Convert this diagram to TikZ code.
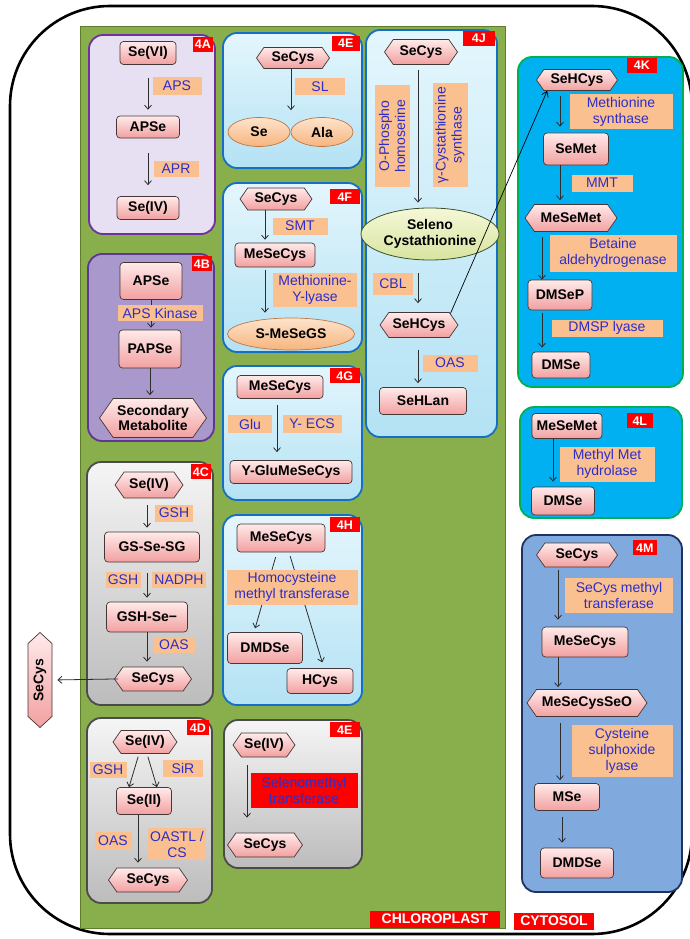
\documentclass[tikz,border=0pt]{standalone}
\usepackage{fontspec}
\setmainfont{Liberation Sans}
\usetikzlibrary{shapes.symbols,shapes.geometric,arrows.meta}
\definecolor{chl}{RGB}{137,174,76}
\definecolor{chlB}{RGB}{95,125,45}
\definecolor{pkT}{RGB}{255,234,234}
\definecolor{pkB}{RGB}{242,160,160}
\definecolor{ndB}{RGB}{70,55,55}
\definecolor{orT}{RGB}{253,228,205}
\definecolor{orBt}{RGB}{247,180,125}
\definecolor{orB}{RGB}{190,120,70}
\definecolor{ylT}{RGB}{245,248,215}
\definecolor{ylB}{RGB}{215,228,160}
\definecolor{yeB}{RGB}{60,80,40}
\definecolor{lbF}{RGB}{250,192,144}
\definecolor{lbT}{RGB}{45,45,200}
\definecolor{tagR}{RGB}{255,0,0}
\definecolor{arC}{RGB}{45,45,45}
\definecolor{aF}{RGB}{230,224,242}
\definecolor{aB}{RGB}{112,48,160}
\definecolor{bF}{RGB}{168,152,204}
\definecolor{bB}{RGB}{95,55,145}
\definecolor{gT}{RGB}{245,245,245}
\definecolor{gBt}{RGB}{188,188,188}
\definecolor{gB}{RGB}{75,75,75}
\definecolor{cT}{RGB}{228,246,253}
\definecolor{cBt}{RGB}{180,226,244}
\definecolor{cB}{RGB}{20,110,200}
\definecolor{kF}{RGB}{0,176,240}
\definecolor{kB}{RGB}{0,176,80}
\definecolor{mF}{RGB}{128,170,222}
\definecolor{mB}{RGB}{30,50,100}
\begin{document}
\begin{tikzpicture}[x=1pt,y=-1pt,
 sz/.style 2 args={minimum width=#1pt,minimum height=#2pt},
 rn/.style={draw=ndB,line width=0.7pt,rounded corners=3.5pt,top color=pkT,bottom color=pkB,font=\bfseries\fontsize{14}{15}\selectfont,inner sep=1pt,align=center},
 hx/.style={rn,sharp corners,signal,signal to=west and east,signal pointer angle=110},
 oe/.style={ellipse,draw=orB,line width=0.7pt,top color=orT,bottom color=orBt,font=\bfseries\fontsize{14}{15}\selectfont,inner sep=0pt,align=center},
 lb/.style={fill=lbF,text=lbT,font=\fontsize{14}{16}\selectfont,inner sep=1pt,align=center},
 tg/.style={fill=tagR,text=white,font=\bfseries\fontsize{12.5}{13}\selectfont,inner sep=1pt,minimum height=15pt,minimum width=20pt,anchor=north east},
 arr/.style={draw=arC,line width=0.8pt,-{Straight Barb[length=4pt,width=7pt]}},
 pnl/.style={line width=1.8pt,rounded corners=14pt},
 pA/.style={pnl,draw=aB,fill=aF},
 pB/.style={pnl,draw=bB,fill=bF},
 pG/.style={pnl,draw=gB,top color=gT,bottom color=gBt},
 pC/.style={pnl,draw=cB,top color=cT,bottom color=cBt},
 pK/.style={pnl,draw=kB,fill=kF},
 pM/.style={pnl,draw=mB,fill=mF}]
\useasboundingbox (0,0) rectangle (689,939);
\draw[line width=2.6pt, rounded corners=100pt] (10,6) rectangle (692,934);
\draw[fill=chl, draw=chlB, line width=0.8pt] (80,26) rectangle (505,928);

% 4A
\draw[pA] (89,35) rectangle (215,234);
\node[tg] (tA) at (213,37) {4A};
\node[rn, sz={56}{23}] (nA1) at (148,53) {Se(VI)};
\node[rn, sz={63}{22}] (nA2) at (148,127) {APSe};
\node[rn, sz={62}{23}] (nA3) at (148,208) {Se(IV)};
\draw[arr, shorten <=13pt, shorten >=6pt] (nA1.south) -- (nA2.north);
\draw[arr, shorten <=15pt, shorten >=11pt] (nA2.south) -- (nA3.north);
\node[lb, sz={49}{18}] (lA1) at (177,86) {APS};
\node[lb, sz={45}{16}] (lA2) at (176,169) {APR};

% 4B
\draw[pB] (88,254) rectangle (214,441);
\node[tg] (tB) at (212,256) {4B};
\node[rn, sz={62}{37}] (nB1) at (151,281) {APSe};
\node[rn, sz={62}{38}] (nB2) at (150,349) {PAPSe};
\node[hx, sz={107}{39}] (nB3) at (153,418) {Secondary\\Metabolite};
\draw[arr, shorten >=2pt] (nB1.south) -- (nB1.south |- nB2.north);
\draw[arr, shorten >=3pt] (nB2.south) -- (nB2.south |- nB3.north);
\node[lb, sz={85}{16}] (lB1) at (160,313) {APS Kinase};

% 4C
\draw[pG] (87,462) rectangle (213,705);
\node[tg] (tC) at (211,464) {4C};
\node[hx, sz={68}{26}] (nC1) at (149,485) {Se(IV)};
\node[rn, sz={95}{30}] (nC2) at (152,547) {GS-Se-SG};
\node[rn, sz={81}{30}] (nC3) at (147,617) {GSH-Se−};
\node[hx, sz={77}{24}] (nC4) at (153,679) {SeCys};
\draw[arr, shorten <=7pt, shorten >=4pt] ([xshift=-2pt]nC1.south) -- ([xshift=-2pt]nC1.south |- nC2.north);
\draw[arr, shorten <=11pt, shorten >=4pt] ([xshift=-5pt]nC2.south) -- ([xshift=-5pt]nC2.south |- nC3.north);
\draw[arr, shorten >=5pt] (nC3.south) -- (nC3.south |- nC4.north);
\node[lb, sz={38}{17}] (lC1) at (174,513) {GSH};
\node[lb, sz={35}{16}] (lC2) at (123,580) {GSH};
\node[lb, sz={54}{16}] (lC3) at (179,580) {NADPH};
\node[lb, sz={42}{16}] (lC4) at (174,645) {OAS};
\node[hx, sz={95}{24}, rotate=90, signal pointer angle=95] (sOut) at (40,680) {SeCys};
\draw[arr, shorten >=5pt, shorten <=-4pt] (nC4.west) -- (sOut.south);

% 4D
\draw[pG] (87,718) rectangle (212,903);
\node[tg, minimum width=22pt] (tD) at (209,720) {4D};
\node[hx, sz={64}{23}] (nD1) at (145,742) {Se(IV)};
\node[rn, sz={55}{27}] (nD2) at (144,801) {Se(II)};
\node[hx, sz={79}{24}] (nD3) at (148,880) {SeCys};
\draw[arr, shorten <=3pt] ([xshift=-6pt]nD1.south) -- ([xshift=-15pt]nD2.north);
\draw[arr, shorten <=3pt] ([xshift=2pt]nD1.south) -- ([xshift=13pt]nD2.north);
\draw[arr, shorten >=5pt] ([xshift=-6pt]nD2.south) -- ([xshift=-6pt]nD2.south |- nD3.north);
\node[lb, sz={37}{16}] (lD1) at (108,770) {GSH};
\node[lb, sz={40}{17}] (lD2) at (183,768) {SiR};
\node[lb, sz={37}{18}] (lD3) at (113,841) {OAS};
\node[lb, sz={58}{32}] (lD4) at (177,844) {OASTL /\\CS};

% 4E top
\draw[pC] (223,33) rectangle (362,168);
\node[tg, minimum width=28pt] (tE) at (360,36) {4E};
\node[hx, sz={73}{21}] (nE1) at (293,58) {SeCys};
\node[oe, sz={62}{29}] (eSe) at (259,132) {Se};
\node[oe, sz={62}{29}] (eAla) at (322,132) {Ala};
\draw[arr, shorten >=7pt] ([xshift=-2pt]nE1.south) -- ([xshift=-2pt]nE1.south |- eSe.north);
\node[lb, sz={50}{17}] (lE1) at (320,87) {SL};

% 4F
\draw[pC] (223,183) rectangle (362,352);
\node[tg, minimum width=30pt] (tF) at (360,189) {4F};
\node[hx, sz={72}{22}] (nF1) at (276,199) {SeCys};
\node[rn, sz={80}{24}] (nF2) at (275,255) {MeSeCys};
\node[oe, sz={127}{32}] (eF) at (291,334) {S-MeSeGS};
\draw[arr, shorten >=3pt] ([xshift=-11pt]nF1.south) -- ([xshift=-11pt]nF1.south |- nF2.north);
\draw[arr, shorten <=3pt, shorten >=5pt] ([xshift=-10pt]nF2.south) -- ([xshift=-10pt]nF2.south |- eF.north);
\node[lb, sz={55}{17}] (lF1) at (300,226) {SMT};
\node[lb, sz={84}{34}] (lF2) at (315,290) {Methionine-\\Y-lyase};

% 4G
\draw[pC] (223,366) rectangle (362,500);
\node[tg, minimum width=30pt] (tG) at (360,368) {4G};
\node[rn, sz={86}{23}] (nG1) at (280,387) {MeSeCys};
\node[rn, sz={122}{23}] (nG2) at (291,472) {Y-GluMeSeCys};
\draw[arr, shorten <=6pt, shorten >=8pt] ([xshift=-3pt]nG1.south) -- ([xshift=-3pt]nG1.south |- nG2.north);
\node[lb, sz={44}{18}] (lG1) at (250,424) {Glu};
\node[lb, sz={59}{18}] (lG2) at (312,424) {Y- ECS};

% 4H
\draw[pC] (223,515) rectangle (362,705);
\node[tg, minimum width=30pt] (tH) at (360,517) {4H};
\node[rn, sz={88}{28}] (nH1) at (281,538) {MeSeCys};
\node[rn, sz={75}{31}] (nH2) at (265,648) {DMDSe};
\node[rn, sz={66}{25}] (nH3) at (320,681) {HCys};
\draw[arr, shorten <=5pt, shorten >=4pt] ([xshift=-4pt]nH1.south) -- ([xshift=-11pt]nH2.north);
\draw[arr, shorten <=4pt, shorten >=6pt] ([xshift=8pt]nH1.south) -- ([xshift=4pt]nH3.north);
\node[lb, sz={131}{35}] (lH1) at (292,587) {Homocysteine\\methyl transferase};

% 4E bottom
\draw[pG] (224,720) rectangle (362,868);
\node[tg, minimum width=30pt] (tI) at (360,722) {4E};
\node[hx, sz={62}{24}] (nI1) at (264,745) {Se(IV)};
\node[hx, sz={75}{24}] (nI2) at (265,845) {SeCys};
\draw[arr, shorten <=8pt, shorten >=15pt] ([xshift=-17pt]nI1.south) -- ([xshift=-17pt]nI1.south |- nI2.north);
\node[lb, fill=tagR, sz={107}{35}] (lI1) at (304,790) {Selenomethyl\\transferase};

% 4J
\draw[pC] (366,30) rectangle (497,437);
\node[tg, minimum width=32pt] (tJ) at (495,31) {4J};
\node[hx, sz={73}{25}] (nJ1) at (421,52) {SeCys};
\node[ellipse, draw=yeB, line width=0.8pt, top color=ylT, bottom color=ylB, font=\bfseries\fontsize{14}{16}\selectfont, sz={138}{52}, inner sep=0pt, align=center] (eJ) at (430,234) {Seleno\\Cystathionine};
\node[hx, sz={78}{25}] (nJ2) at (419,325) {SeHCys};
\node[rn, sz={87}{27}] (nJ3) at (423,401) {SeHLan};
\draw[arr, shorten <=5pt, shorten >=5pt] ([xshift=-3pt]nJ1.south) -- ([xshift=-3pt]nJ1.south |- eJ.north);
\draw[arr, shorten <=13pt, shorten >=9pt] ([xshift=-12pt]eJ.south) -- ([xshift=-12pt]eJ.south |- nJ2.north);
\draw[arr, shorten <=12pt, shorten >=4pt] ([xshift=-1pt]nJ2.south) -- ([xshift=-1pt]nJ2.south |- nJ3.north);
\node[lb, sz={102}{35}, rotate=90] (lJ1) at (392,136) {O-Phospho\\homoserine};
\node[lb, sz={104}{35}, rotate=90] (lJ2) at (450,135) {γ-Cystathionine\\synthase};
\node[lb, sz={40}{22}] (lJ3) at (393,284) {CBL};
\node[lb, sz={55}{17}] (lJ4) at (450,363) {OAS};

% 4K
\draw[pK] (518,57) rectangle (683,387);
\node[tg, minimum width=30pt] (tK) at (657,58) {4K};
\node[hx, sz={81}{21}] (nK1) at (577,80) {SeHCys};
\node[rn, sz={65}{32}] (nK2) at (576,149) {SeMet};
\node[hx, sz={92}{27}] (nK3) at (571,218) {MeSeMet};
\node[rn, sz={64}{30}] (nK4) at (560,295) {DMSeP};
\node[rn, sz={58}{26}] (nK5) at (561,365) {DMSe};
\draw[arr, shorten <=5pt, shorten >=6pt] ([xshift=-17pt]nK1.south) -- ([xshift=-17pt]nK1.south |- nK2.north);
\draw[arr, shorten >=4pt] ([xshift=-16pt]nK2.south) -- ([xshift=-16pt]nK2.south |- nK3.north);
\draw[arr, shorten <=5pt] ([xshift=-29pt]nK3.south) -- ([xshift=-29pt]nK3.south |- nK4.north);
\draw[arr, shorten <=3pt, shorten >=4pt] ([xshift=-18pt]nK4.south) -- ([xshift=-18pt]nK4.south |- nK5.north);
\node[lb, sz={103}{35}] (lK1) at (621,112) {Methionine\\synthase};
\node[lb, sz={61}{17}] (lK2) at (602,183) {MMT};
\node[lb, sz={127}{37}] (lK3) at (613,253) {Betaine\\aldehydrogenase};
\node[lb, sz={111}{17}] (lK4) at (607,328) {DMSP lyase};

% 4L
\draw[pK] (520,407) rectangle (682,518);
\node[tg, minimum width=26pt] (tL) at (653,413) {4L};
\node[rn, sz={70}{25}] (nL1) at (567,426) {MeSeMet};
\node[rn, sz={63}{28}] (nL2) at (563,501) {DMSe};
\draw[arr, shorten >=5pt] ([xshift=-14pt]nL1.south) -- ([xshift=-14pt]nL1.south |- nL2.north);
\node[lb, sz={95}{35}] (lL1) at (607,464) {Methyl Met\\hydrolase};

% 4M
\draw[pM] (522,535) rectangle (682,892);
\node[tg, minimum width=24pt] (tM) at (657,540) {4M};
\node[hx, sz={81}{24}] (nM1) at (577,555) {SeCys};
\node[rn, sz={86}{30}] (nM2) at (585,642) {MeSeCys};
\node[hx, sz={120}{27}] (nM3) at (587,703) {MeSeCysSeO};
\node[rn, sz={65}{27}] (nM4) at (567,797) {MSe};
\node[rn, sz={73}{30}] (nM5) at (577,863) {DMDSe};
\draw[arr, shorten <=3pt, shorten >=7pt] ([xshift=-19pt]nM1.south) -- ([xshift=-19pt]nM1.south |- nM2.north);
\draw[arr, shorten >=2pt] ([xshift=-27pt]nM2.south) -- ([xshift=-27pt]nM2.south |- nM3.north);
\draw[arr, shorten <=6pt, shorten >=3pt] ([xshift=-27pt]nM3.south) -- ([xshift=-27pt]nM3.south |- nM4.north);
\draw[arr, shorten <=6pt, shorten >=5pt] ([xshift=-5pt]nM4.south) -- ([xshift=-5pt]nM4.south |- nM5.north);
\node[lb, sz={108}{35}] (lM1) at (619,595) {SeCys methyl\\transferase};
\node[lb, sz={101}{52}] (lM2) at (622,751) {Cysteine\\sulphoxide\\lyase};

% long connector 4J -> 4K
\draw[line width=0.7pt, draw=black, -{Straight Barb[length=5pt,width=7pt]}] (nJ2.20) -- (nK1.200);

% compartment tags
\node[tg, anchor=center, sz={130}{17}, font=\bfseries\fontsize{14}{15}\selectfont] (tChl) at (435,919) {CHLOROPLAST};
\node[tg, anchor=center, sz={80}{17}, font=\bfseries\fontsize{14}{15}\selectfont] (tCyt) at (554,921) {CYTOSOL};
\end{tikzpicture}
\end{document}
